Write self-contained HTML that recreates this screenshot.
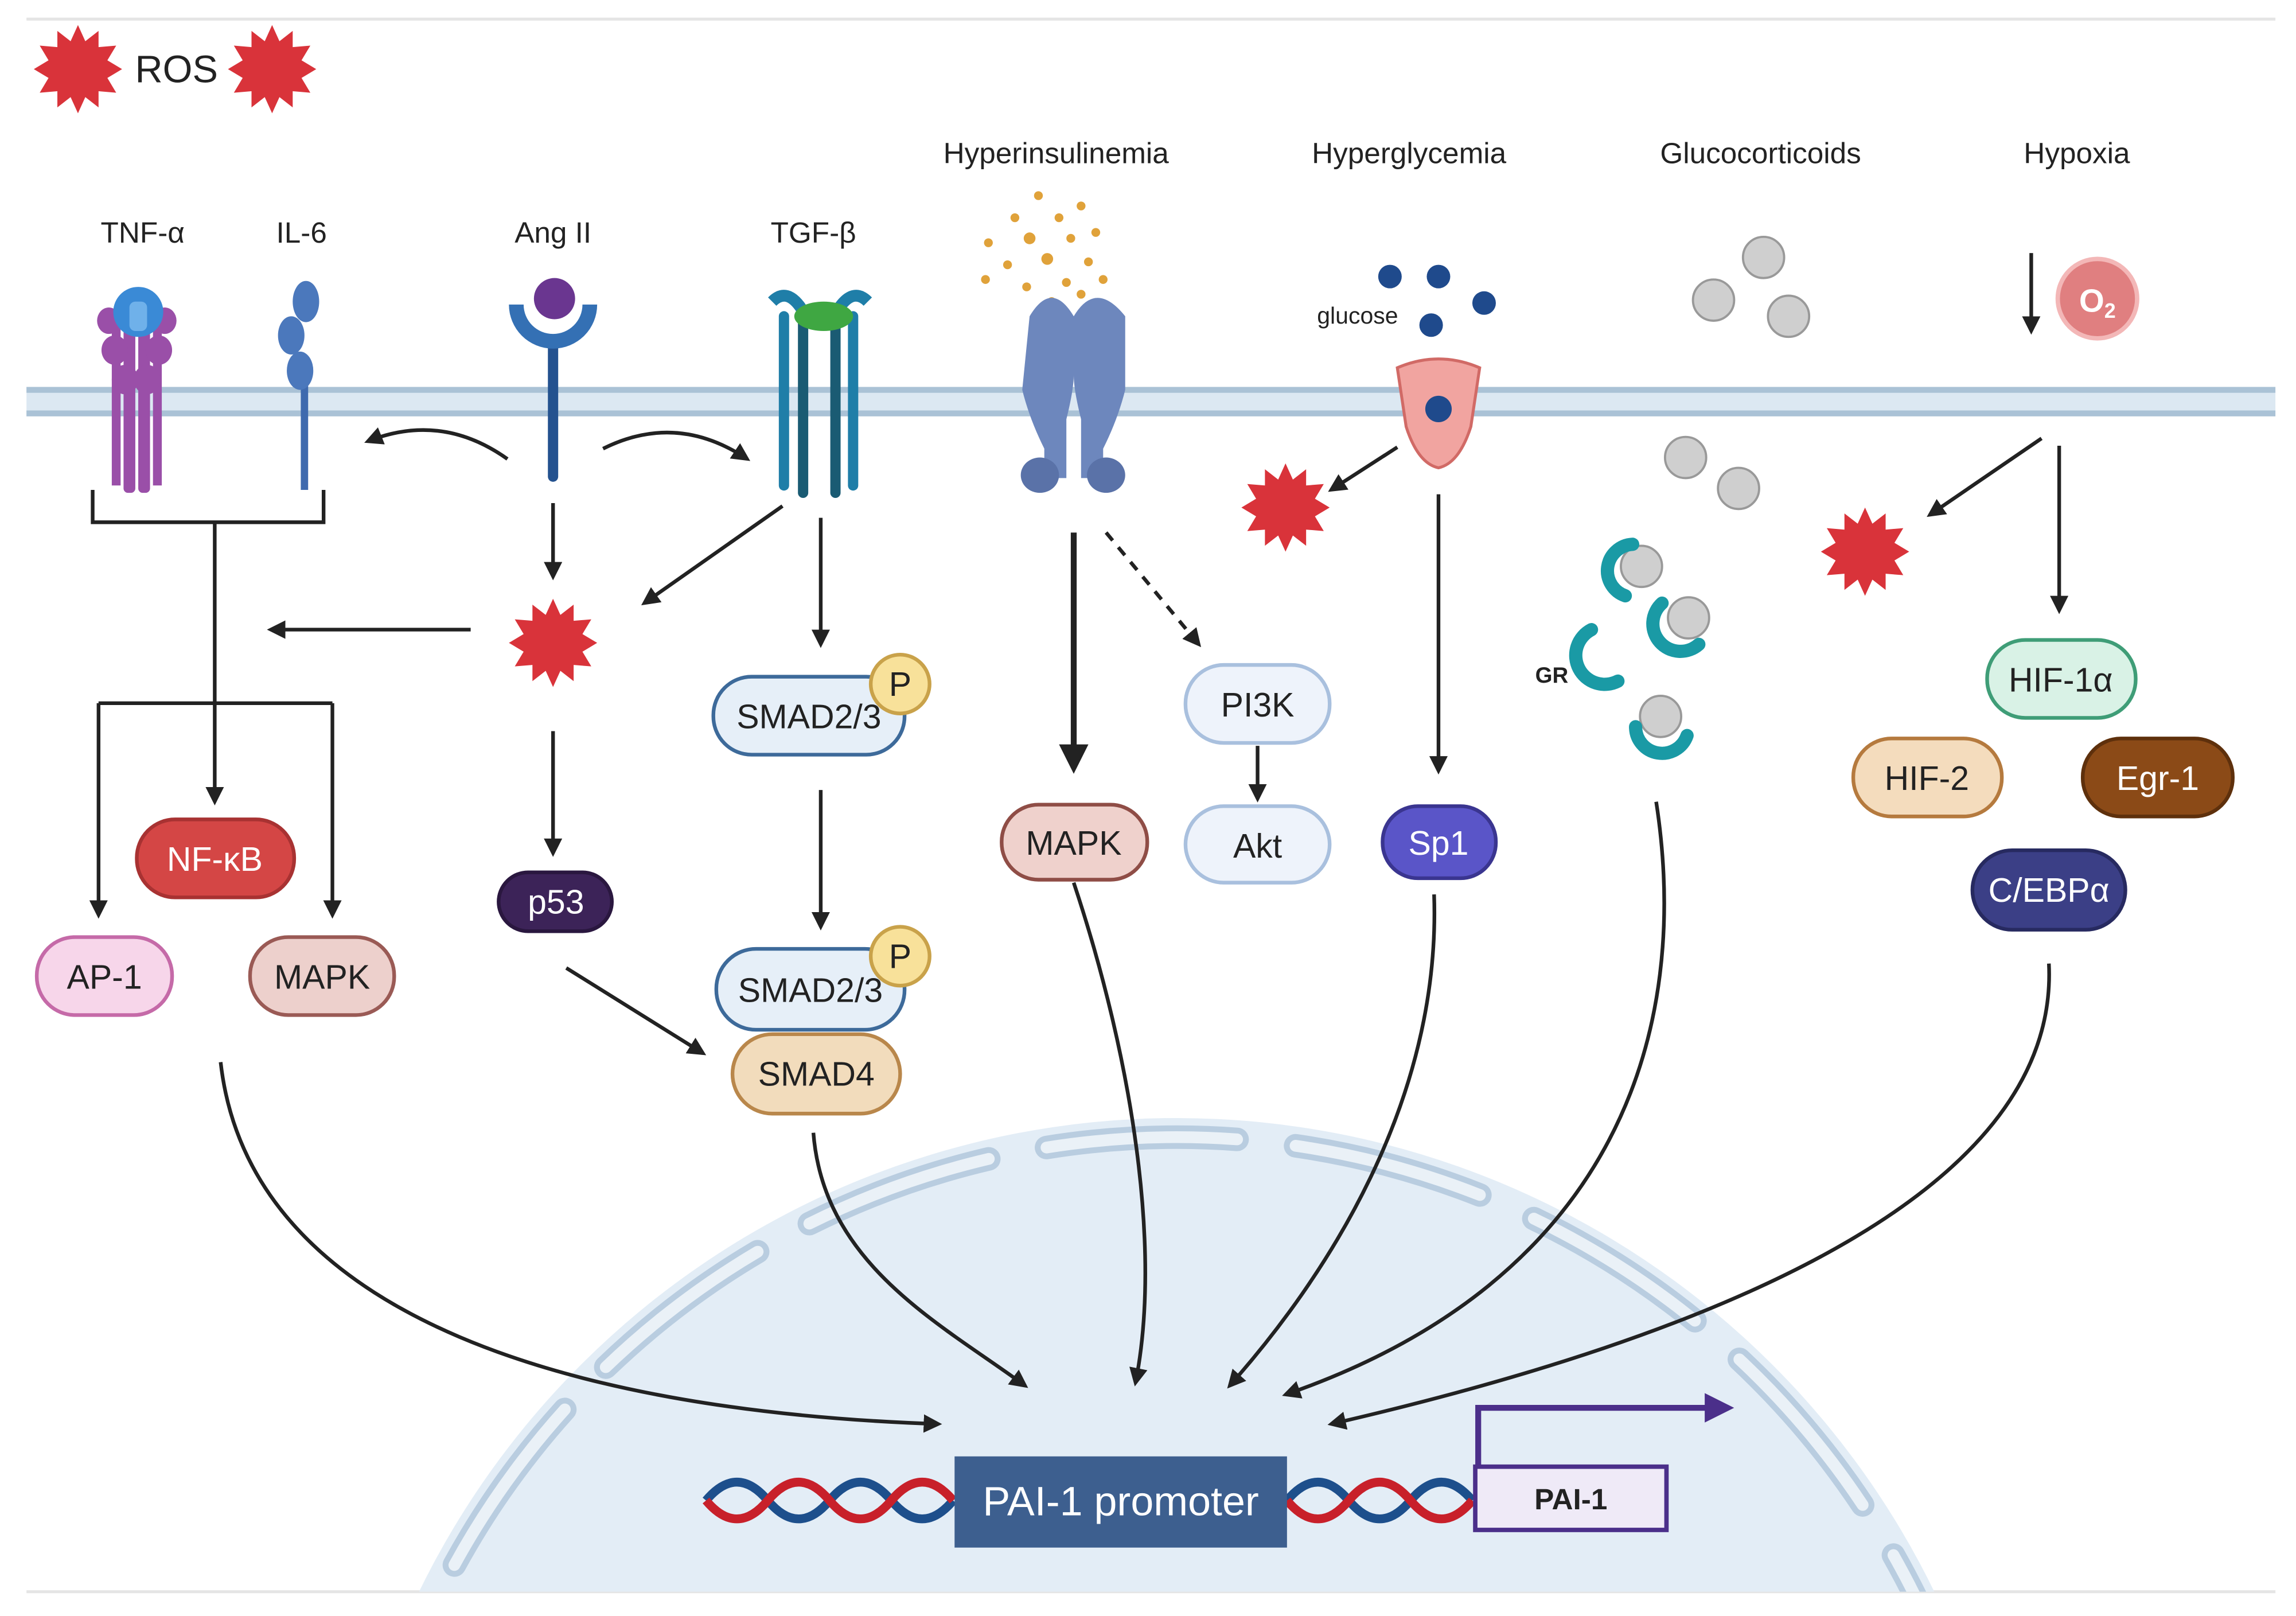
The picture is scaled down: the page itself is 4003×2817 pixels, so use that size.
<!DOCTYPE html>
<html><head><meta charset="utf-8"><style>
html,body{margin:0;padding:0;background:#fff;width:4003px;height:2817px;overflow:hidden}
svg{display:block}
text{font-family:"Liberation Sans",sans-serif}
</style></head><body>
<svg width="4003" height="2817" viewBox="0 0 1561 1098.5" xmlns="http://www.w3.org/2000/svg">
<defs>
<marker id="a" viewBox="0 0 10 10" refX="8" refY="5" markerWidth="5" markerHeight="5" orient="auto"><path d="M0,0L10,5L0,10z" fill="#222"/></marker>
<marker id="ap" viewBox="0 0 10 10" refX="8" refY="5" markerWidth="5" markerHeight="5" orient="auto"><path d="M0,0L10,5L0,10z" fill="#4b2f8a"/></marker>
<clipPath id="c"><rect x="0" y="0" width="1561" height="1082"/></clipPath>
<g id="star"><polygon fill="#d9333a" points="0,-30 5,-19 14,-26 14,-15 26,-16 20,-6 30,0 20,6 26,16 14,15 14,26 5,19 0,30 -5,19 -14,26 -14,15 -26,16 -20,6 -30,0 -20,-6 -26,-16 -14,-15 -14,-26 -5,-19"/></g>
</defs>
<line x1="18" y1="13" x2="1547" y2="13" stroke="#e5e5e5" stroke-width="2"/>
<line x1="18" y1="1082" x2="1547" y2="1082" stroke="#e5e5e5" stroke-width="2"/>
<g clip-path="url(#c)">
<circle cx="800" cy="1333" r="573" fill="#e3edf6"/>
<circle cx="800" cy="1333" r="560" fill="none" stroke="#b9cde0" stroke-width="16" stroke-dasharray="130 40" stroke-linecap="round"/>
<circle cx="800" cy="1333" r="560" fill="none" stroke="#eaf1f7" stroke-width="8" stroke-dasharray="130 40" stroke-linecap="round"/>
</g>
<rect x="18" y="263" width="1529" height="20" fill="#dce8f2"/>
<line x1="18" y1="265" x2="1547" y2="265" stroke="#aac2d6" stroke-width="4"/>
<line x1="18" y1="281" x2="1547" y2="281" stroke="#aac2d6" stroke-width="4"/>
<use href="#star" x="53" y="47"/><use href="#star" x="185" y="47"/>
<text x="120" y="56" font-size="26" text-anchor="middle" fill="#222">ROS</text>
<g font-size="20" text-anchor="middle" fill="#222">
<text x="97" y="165">TNF-α</text><text x="205" y="165">IL-6</text><text x="376" y="165">Ang II</text><text x="553" y="165">TGF-β</text>
<text x="718" y="111">Hyperinsulinemia</text><text x="958" y="111">Hyperglycemia</text><text x="1197" y="111">Glucocorticoids</text><text x="1412" y="111">Hypoxia</text>
</g>
<g fill="#9a4fa8"><rect x="84" y="210" width="8" height="125" rx="3"/><rect x="94" y="210" width="8" height="125" rx="3"/><rect x="76" y="215" width="6" height="115"/><rect x="104" y="215" width="6" height="115"/>
<ellipse cx="78" cy="238" rx="9" ry="10"/><ellipse cx="108" cy="238" rx="9" ry="10"/><ellipse cx="74" cy="218" rx="8" ry="9"/><ellipse cx="112" cy="218" rx="8" ry="9"/><ellipse cx="85" cy="258" rx="9" ry="10"/><ellipse cx="100" cy="258" rx="9" ry="10"/></g>
<circle cx="94" cy="212" r="17" fill="#3a8ad6"/><rect x="88" y="205" width="12" height="20" rx="4" fill="#6fb1ea"/>
<line x1="207" y1="250" x2="207" y2="333" stroke="#3f6aae" stroke-width="5"/>
<ellipse cx="208" cy="205" rx="9" ry="14" fill="#4b78bc"/><ellipse cx="198" cy="228" rx="9" ry="13" fill="#4b78bc"/><ellipse cx="204" cy="252" rx="9" ry="13" fill="#4b78bc"/>
<line x1="376" y1="232" x2="376" y2="324" stroke="#24528f" stroke-width="7" stroke-linecap="round"/>
<path d="M346,207 a30,30 0 0 0 60,0 l-10,0 a20,20 0 0 1 -40,0z" fill="#3470b4"/>
<circle cx="377" cy="203" r="14" fill="#6a3690"/>
<g stroke-width="7" stroke-linecap="round"><line x1="533" y1="215" x2="533" y2="330" stroke="#1f7ea8"/><line x1="546" y1="215" x2="546" y2="335" stroke="#1a5b73"/><line x1="568" y1="215" x2="568" y2="335" stroke="#1a5b73"/><line x1="580" y1="215" x2="580" y2="330" stroke="#1f7ea8"/></g>
<path d="M525,205 q10,-10 20,5 M590,205 q-10,-10 -20,5" stroke="#1f7ea8" stroke-width="8" fill="none"/>
<ellipse cx="560" cy="215" rx="20" ry="10" fill="#3fa742"/>
<g fill="#e0a23a"><circle cx="706" cy="133" r="3"/><circle cx="690" cy="148" r="3"/><circle cx="720" cy="148" r="3"/><circle cx="735" cy="140" r="3"/><circle cx="672" cy="165" r="3"/><circle cx="700" cy="162" r="4"/><circle cx="728" cy="162" r="3"/><circle cx="745" cy="158" r="3"/><circle cx="685" cy="180" r="3"/><circle cx="712" cy="176" r="4"/><circle cx="740" cy="178" r="3"/><circle cx="670" cy="190" r="3"/><circle cx="698" cy="195" r="3"/><circle cx="725" cy="192" r="3"/><circle cx="750" cy="190" r="3"/><circle cx="715" cy="205" r="3"/><circle cx="735" cy="200" r="3"/></g>
<path d="M700,215 q15,-25 30,0 q15,-25 35,0 l0,50 q-5,20 -15,40 l0,20 -15,0 0,-40 q-5,-20 -5,-30 q0,10 -5,30 l0,40 -15,0 0,-20 q-10,-20 -15,-40z" fill="#6d87bd"/>
<ellipse cx="707" cy="323" rx="13" ry="12" fill="#5a72a8"/><ellipse cx="752" cy="323" rx="13" ry="12" fill="#5a72a8"/>
<g fill="#1f4a8c"><circle cx="945" cy="188" r="8"/><circle cx="978" cy="188" r="8"/><circle cx="973" cy="221" r="8"/><circle cx="1009" cy="206" r="8"/></g>
<text x="923" y="220" font-size="16" text-anchor="middle" fill="#222">glucose</text>
<path d="M950,250 q28,-12 56,0 l-6,40 q-8,25 -22,28 q-14,-3 -22,-28z" fill="#f1a4a0" stroke="#d16a66" stroke-width="2"/>
<circle cx="978" cy="278" r="9" fill="#1f4a8c"/>
<g fill="#cfcfcf" stroke="#999" stroke-width="1.5"><circle cx="1199" cy="175" r="14"/><circle cx="1165" cy="204" r="14"/><circle cx="1216" cy="215" r="14"/><circle cx="1146" cy="311" r="14"/><circle cx="1182" cy="332" r="14"/>
<circle cx="1116" cy="385" r="14"/><circle cx="1148" cy="420" r="14"/><circle cx="1129" cy="487" r="14"/></g>
<path d="M1110,370 a18,18 0 0 0 -5,35" fill="none" stroke="#1a9aa5" stroke-width="9" stroke-linecap="round"/>
<path d="M1130,410 a18,18 0 0 0 25,28" fill="none" stroke="#1a9aa5" stroke-width="9" stroke-linecap="round"/>
<path d="M1082,428 a18,18 0 0 0 18,35" fill="none" stroke="#1a9aa5" stroke-width="9" stroke-linecap="round"/>
<path d="M1112,494 a18,18 0 0 0 35,6" fill="none" stroke="#1a9aa5" stroke-width="9" stroke-linecap="round"/>
<text x="1055" y="464" font-size="15" font-weight="bold" text-anchor="middle" fill="#222">GR</text>
<circle cx="1426" cy="203" r="27" fill="#e07f80" stroke="#f3b7b7" stroke-width="3"/>
<text x="1426" y="212" font-size="22" font-weight="bold" text-anchor="middle" fill="#fff">O<tspan font-size="14" dy="4">2</tspan></text>
<use href="#star" x="376" y="437"/><use href="#star" x="874" y="345"/><use href="#star" x="1268" y="375"/>
<g stroke="#222" stroke-width="2.5" fill="none" marker-end="url(#a)">
<path d="M1381,172V225"/>
<path d="M146,355V545"/>
<path d="M67,478V622"/><path d="M226,478V622"/>
<path d="M320,428H184"/>
<path d="M345,312Q300,280 250,300"/><path d="M410,305Q460,280 508,312"/>
<path d="M376,342V392"/><path d="M532,344L438,410"/><path d="M558,352V438"/>
<path d="M376,497V580"/><path d="M558,537V630"/><path d="M385,658L478,716"/>
<path d="M730,362V522" stroke-width="4"/><path d="M752,362L815,438" stroke-dasharray="7 6"/><path d="M855,507V543"/>
<path d="M978,336V524"/><path d="M950,304L905,333"/>
<path d="M1388,298L1312,350"/><path d="M1400,303V415"/>
<path d="M150,722C170,900 400,960 638,968"/>
<path d="M553,770C560,860 640,900 697,942"/>
<path d="M730,600C770,720 790,850 772,940"/>
<path d="M975,608C980,750 900,870 836,942"/>
<path d="M1126,545C1150,700 1100,870 874,948"/>
<path d="M1393,655C1400,800 1200,900 905,968"/>
</g>
<path d="M63,333V355H220V333M67,478H226" stroke="#222" stroke-width="2.5" fill="none"/>
<g font-size="23" text-anchor="middle" stroke-width="2.5">
<rect x="93" y="557" width="107" height="53" rx="26" fill="#d44645" stroke="#a83232"/><text x="146" y="592" fill="#fff" stroke="none">NF-κB</text>
<rect x="25" y="637" width="92" height="53" rx="26" fill="#f7d6ea" stroke="#c56aa8"/><text x="71" y="672" fill="#222" stroke="none">AP-1</text>
<rect x="170" y="637" width="98" height="53" rx="26" fill="#edd0cc" stroke="#9a5a55"/><text x="219" y="672" fill="#222" stroke="none">MAPK</text>
<rect x="339" y="593" width="77" height="40" rx="20" fill="#3c2358" stroke="#2a173f"/><text x="378" y="621" fill="#fff" stroke="none">p53</text>
<rect x="485" y="460" width="130" height="53" rx="26" fill="#e6eff8" stroke="#3d6a9a"/><text x="550" y="495" fill="#222" stroke="none">SMAD2/3</text>
<circle cx="612" cy="465" r="20" fill="#f8e19a" stroke="#c9a24a"/><text x="612" y="473" fill="#222" stroke="none">P</text>
<rect x="498" y="703" width="114" height="54" rx="27" fill="#f2dcbc" stroke="#b9874b"/><text x="555" y="738" fill="#222" stroke="none">SMAD4</text>
<rect x="487" y="645" width="128" height="55" rx="27" fill="#e6eff8" stroke="#3d6a9a"/><text x="551" y="681" fill="#222" stroke="none">SMAD2/3</text>
<circle cx="612" cy="650" r="20" fill="#f8e19a" stroke="#c9a24a"/><text x="612" y="658" fill="#222" stroke="none">P</text>
<rect x="681" y="547" width="99" height="51" rx="25" fill="#efd1cc" stroke="#8f4d46"/><text x="730" y="581" fill="#222" stroke="none">MAPK</text>
<rect x="806" y="452" width="98" height="53" rx="26" fill="#eef3fb" stroke="#a9c0de"/><text x="855" y="487" fill="#222" stroke="none">PI3K</text>
<rect x="806" y="548" width="98" height="52" rx="26" fill="#eef3fb" stroke="#a9c0de"/><text x="855" y="583" fill="#222" stroke="none">Akt</text>
<rect x="940" y="548" width="77" height="49" rx="24" fill="#5a55c8" stroke="#3a3590"/><text x="978" y="581" fill="#fff" stroke="none">Sp1</text>
<rect x="1351" y="435" width="101" height="53" rx="26" fill="#d9f2e6" stroke="#3f9d77"/><text x="1401" y="470" fill="#222" stroke="none">HIF-1α</text>
<rect x="1260" y="502" width="101" height="53" rx="26" fill="#f4dcbd" stroke="#b57a3e"/><text x="1310" y="537" fill="#222" stroke="none">HIF-2</text>
<rect x="1416" y="502" width="102" height="53" rx="26" fill="#8b4a17" stroke="#5e300c"/><text x="1467" y="537" fill="#fff" stroke="none">Egr-1</text>
<rect x="1341" y="578" width="104" height="54" rx="27" fill="#3b3f86" stroke="#272a60"/><text x="1393" y="613" fill="#fff" stroke="none">C/EBPα</text>
</g>
<g fill="none" stroke-width="6">
<path d="M480,1020 q21,-25 42,0 t42,0 t42,0 t42,0" stroke="#1d4f8c"/>
<path d="M480,1020 q21,25 42,0 t42,0 t42,0 t42,0" stroke="#c8202a"/>
<path d="M875,1020 q21,-25 42,0 t42,0 t42,0" stroke="#1d4f8c"/>
<path d="M875,1020 q21,25 42,0 t42,0 t42,0" stroke="#c8202a"/>
</g>
<rect x="649" y="990" width="226" height="62" fill="#3d5f8f"/>
<text x="762" y="1030" font-size="28" text-anchor="middle" fill="#fff">PAI-1 promoter</text>
<path d="M1005,997V957H1175" stroke="#4b2f8a" stroke-width="4" fill="none" marker-end="url(#ap)"/>
<rect x="1003" y="997" width="130" height="43" fill="#efeaf7" stroke="#4b2f8a" stroke-width="3"/>
<text x="1068" y="1026" font-size="20" font-weight="bold" text-anchor="middle" fill="#222">PAI-1</text>
</svg>
</body></html>
